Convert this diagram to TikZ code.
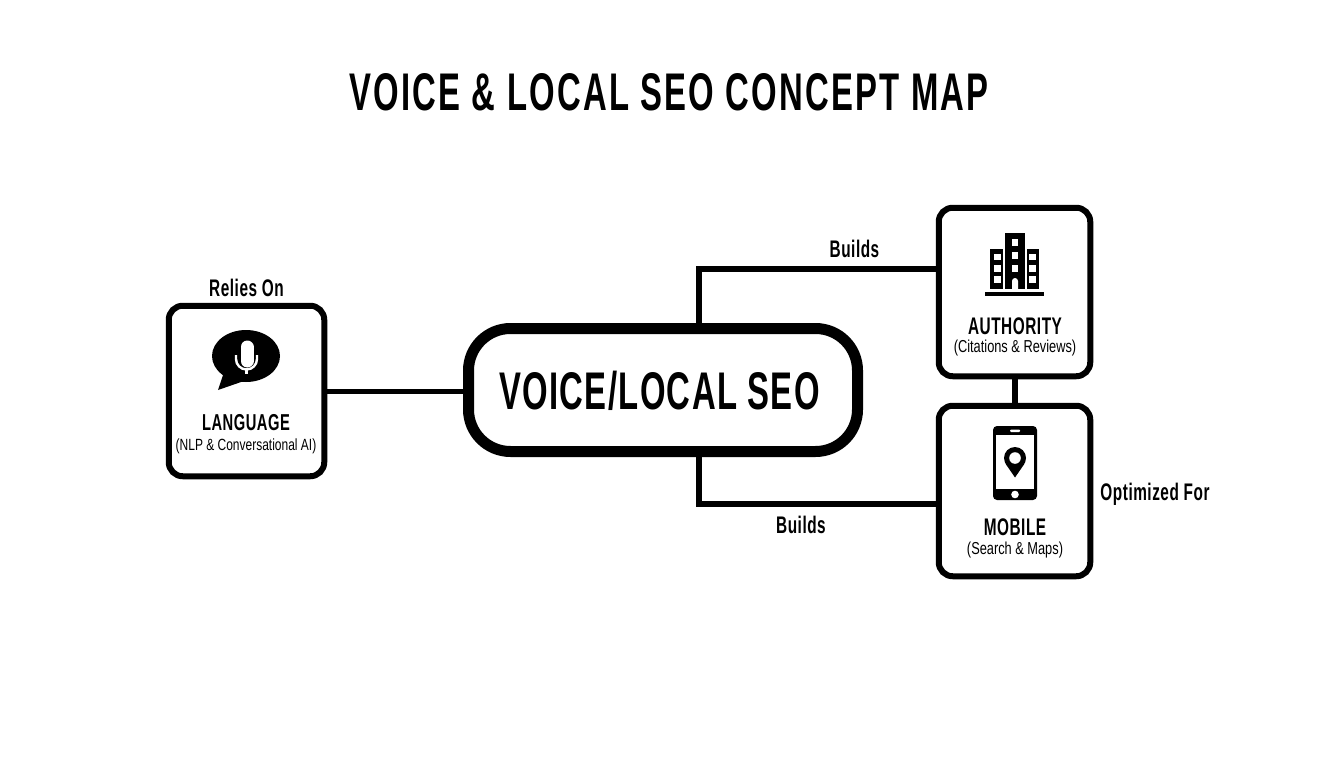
\documentclass[tikz,border=0pt]{standalone}
\usepackage{fontspec}
\setmainfont[FakeStretch=0.74]{Liberation Sans}
\newfontfamily\headfont[FakeStretch=0.62,LetterSpace=4.2]{Liberation Sans Bold}
\newfontfamily\hubfont[FakeStretch=0.62,LetterSpace=2.5]{Liberation Sans Bold}
\newfontfamily\labfont[FakeStretch=0.64,LetterSpace=2.2]{Liberation Sans Bold}
\tikzset{
  box/.style={draw=black,line width=6pt,rounded corners=14pt,fill=white,inner sep=0pt},
  hub/.style={draw=black,line width=11pt,rounded corners=42pt,fill=white,inner sep=0pt},
  link/.style={draw=black,line width=5.5pt},
  lbl/.style={inner sep=0pt,anchor=center,text=black},
  ink/.style={fill=black,draw=none},
  paper/.style={fill=white,draw=none}
}
\begin{document}
\begin{tikzpicture}[x=1pt,y=-1pt]
\useasboundingbox[fill=white] (0,0) rectangle (1344,768);
\node[lbl] (title) at (669,92) {\fontsize{53}{53}\headfont VOICE \& LOCAL SEO CONCEPT MAP};

\node[hub,minimum width=389pt,minimum height=123pt] (hub) at (663,390) {};
\node[lbl] (hubt) at (659.5,390.5) {\fontsize{53}{53}\hubfont VOICE/LOCAL SEO};

\node[box,minimum width=155.5pt,minimum height=170.5pt] (lang) at (246.5,391) {};
\node[box,minimum width=151.5pt,minimum height=168.5pt] (auth) at (1014.5,292) {};
\node[box,minimum width=151.5pt,minimum height=170.5pt] (mob) at (1014.5,491) {};

\coordinate (hubtop) at (699,328);
\coordinate (hubbot) at (699,452);
\draw[link] (lang.east |- 0,391.5) -- (hub.west |- 0,391.5);
\draw[link] (hubtop) -- (699,269) -- (auth.west |- 0,269);
\draw[link] (hubbot) -- (699,504) -- (mob.west |- 0,504);
\draw[link,line width=6pt] (auth.south) -- (mob.north);

\node[lbl] (l1) at (246.5,288) {\fontsize{24}{24}\labfont Relies On};
\node[lbl] (l2) at (854.5,249) {\fontsize{24}{24}\labfont Builds};
\node[lbl] (l3) at (801,525) {\fontsize{24}{24}\labfont Builds};
\node[lbl] (l4) at (1155,494) {\fontsize{24}{24}\labfont Optimized For};

\node[lbl] (lt) at (246,423) {\fontsize{23}{23}\labfont LANGUAGE};
\node[lbl] (ls) at (246,446) {\fontsize{16.2}{16.2}\selectfont (NLP \& Conversational AI)};
\node[lbl] (at) at (1015,326) {\fontsize{24}{24}\labfont AUTHORITY};
\node[lbl] (as) at (1015,348) {\fontsize{17.3}{17.3}\selectfont (Citations \& Reviews)};
\node[lbl] (mt) at (1015,527) {\fontsize{24}{24}\labfont MOBILE};
\node[lbl] (ms) at (1015,550) {\fontsize{17.3}{17.3}\selectfont (Search \& Maps)};

% speech bubble with microphone
\fill[ink] (246,356) ellipse (34pt and 26pt);
\fill[ink] (224,372) -- (218,390) -- (244,381) -- cycle;
\draw[white,line width=13pt,line cap=round] (247,347) -- (247,361);
\draw[white,line width=2.4pt] (236,355) -- (236,359) arc[start angle=180,end angle=360,radius=10.5pt] -- (257,355);
\draw[white,line width=2.4pt] (246.5,369) -- (246.5,374);

% buildings
\fill[ink] (1005,233) rectangle (1025,289);
\fill[ink] (990,249) rectangle (1003,289);
\fill[ink] (1027,249) rectangle (1039,289);
\fill[ink] (985,292) rectangle (1044,296);
\foreach \wy in {239,252,264.5}{\fill[paper] (1012,\wy) rectangle (1018,\wy+7);}
\foreach \wy in {253.5,265,276}{
  \fill[paper] (994,\wy) rectangle (1001,\wy+6.5);
  \fill[paper] (1029,\wy) rectangle (1036,\wy+6.5);
}
\fill[paper] (1012,289) -- (1012,281) arc[start angle=180,end angle=0,radius=3pt] -- (1018,289) -- cycle;

% phone and pin
\fill[ink,rounded corners=4pt] (993,426) rectangle (1037,500);
\fill[paper] (996,435) rectangle (1034,489);
\fill[paper,rounded corners=1pt] (1010,429.5) rectangle (1020,432);
\fill[paper] (1015,494.5) circle (3.8pt);
\fill[ink] (1015,458) circle (11pt);
\fill[ink] (1015,477.5) -- (1005.4,463.5) -- (1024.6,463.5) -- cycle;
\fill[paper] (1015,458) circle (5.8pt);
\end{tikzpicture}
\end{document}
